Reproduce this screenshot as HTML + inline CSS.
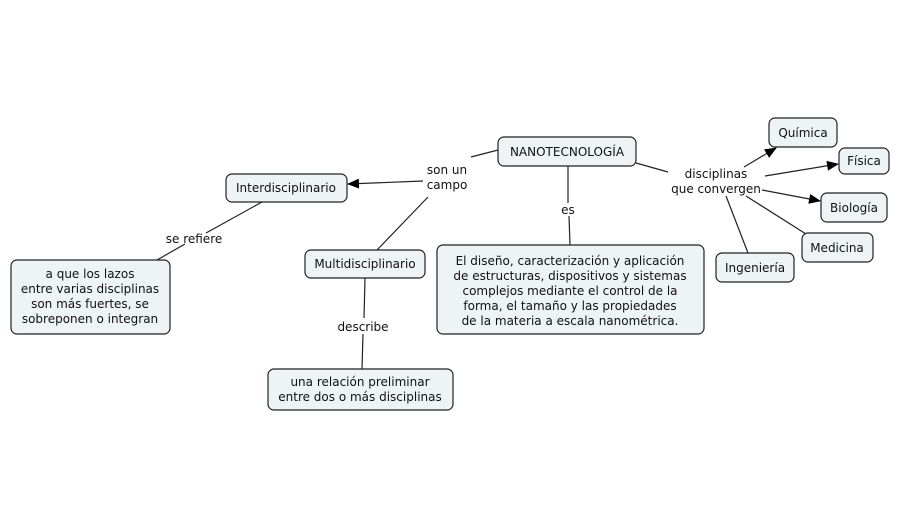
<!DOCTYPE html>
<html><head><meta charset="utf-8">
<style>
html,body{margin:0;padding:0;background:#fff;}
svg{display:block;}
text{font-family:"DejaVu Sans","Liberation Sans",sans-serif;font-size:12px;fill:#111;}
.n{fill:#eef3f5;stroke:#222;stroke-width:1.2;}
.l{stroke:#222;stroke-width:1.2;fill:none;}
</style></head><body>
<svg width="916" height="515" viewBox="0 0 916 515">
<defs><marker id="a" markerWidth="12" markerHeight="10" refX="11" refY="5" orient="auto" markerUnits="userSpaceOnUse"><path d="M0,0 L12,5 L0,10 z" fill="#000"/></marker></defs>
<!-- lines -->
<path class="l" d="M498,150 L471,157"/>
<path class="l" d="M423,181 L348,184" marker-end="url(#a)"/>
<path class="l" d="M428,197 L377,250"/>
<path class="l" d="M568,166 L568,203"/>
<path class="l" d="M569,216 L570,245"/>
<path class="l" d="M636,163 L668,172"/>
<path class="l" d="M744,167 L776,148" marker-end="url(#a)"/>
<path class="l" d="M765,176 L838,164" marker-end="url(#a)"/>
<path class="l" d="M762,190 L820,201" marker-end="url(#a)"/>
<path class="l" d="M746,196 L806,234"/>
<path class="l" d="M726,196 L748,253"/>
<path class="l" d="M262,202 L206,233"/>
<path class="l" d="M185,244 L157,260"/>
<path class="l" d="M365,278 L364,318"/>
<path class="l" d="M363,334 L362,369"/>
<!-- nodes -->
<rect class="n" x="498" y="137" width="138" height="29" rx="6"/>
<text x="567" y="156" text-anchor="middle">NANOTECNOLOGÍA</text>
<rect class="n" x="226" y="174" width="121" height="28" rx="6"/>
<text x="286" y="192" text-anchor="middle">Interdisciplinario</text>
<rect class="n" x="305" y="250" width="120" height="28" rx="6"/>
<text x="365" y="268" text-anchor="middle">Multidisciplinario</text>
<rect class="n" x="11" y="260" width="159" height="74" rx="6"/>
<text text-anchor="middle"><tspan x="90" y="278">a que los lazos</tspan><tspan x="90" y="293">entre varias disciplinas</tspan><tspan x="90" y="308">son más fuertes, se</tspan><tspan x="90" y="323">sobreponen o integran</tspan></text>
<rect class="n" x="268" y="369" width="185" height="41" rx="6"/>
<text text-anchor="middle"><tspan x="360" y="386">una relación preliminar</tspan><tspan x="360" y="401">entre dos o más disciplinas</tspan></text>
<rect class="n" x="437" y="245" width="267" height="89" rx="6"/>
<text text-anchor="middle"><tspan x="570" y="265">El diseño, caracterización y aplicación</tspan><tspan x="570" y="280">de estructuras, dispositivos y sistemas</tspan><tspan x="570" y="295">complejos mediante el control de la</tspan><tspan x="570" y="310">forma, el tamaño y las propiedades</tspan><tspan x="570" y="325">de la materia a escala nanométrica.</tspan></text>
<rect class="n" x="769" y="118" width="68" height="29" rx="6"/>
<text x="803" y="137" text-anchor="middle">Química</text>
<rect class="n" x="839" y="148" width="50" height="26" rx="6"/>
<text x="864" y="165" text-anchor="middle">Física</text>
<rect class="n" x="821" y="193" width="66" height="29" rx="6"/>
<text x="854" y="212" text-anchor="middle">Biología</text>
<rect class="n" x="802" y="233" width="71" height="29" rx="6"/>
<text x="837" y="252" text-anchor="middle">Medicina</text>
<rect class="n" x="716" y="253" width="78" height="29" rx="6"/>
<text x="755" y="272" text-anchor="middle">Ingeniería</text>
<!-- labels -->
<text text-anchor="middle"><tspan x="447" y="174">son un</tspan><tspan x="447" y="189">campo</tspan></text>
<text x="568" y="214" text-anchor="middle">es</text>
<text text-anchor="middle"><tspan x="716" y="178">disciplinas</tspan><tspan x="716" y="193">que convergen</tspan></text>
<text x="194" y="243" text-anchor="middle">se refiere</text>
<text x="363" y="331" text-anchor="middle">describe</text>
</svg>
</body></html>
